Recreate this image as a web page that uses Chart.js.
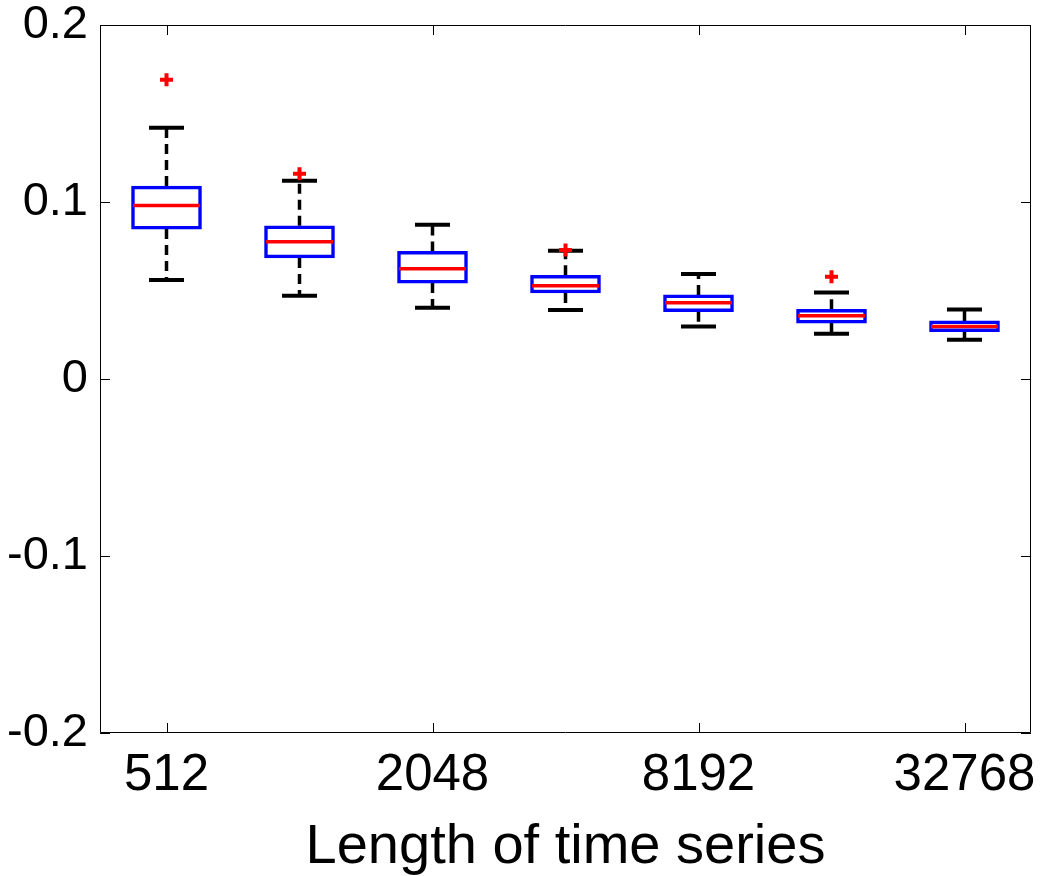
<!DOCTYPE html>
<html>
<head>
<meta charset="utf-8">
<script src="https://cdn.jsdelivr.net/npm/chart.js@4/dist/chart.umd.min.js"></script>
<style>
  html, body { margin: 0; padding: 0; background: #fff; }
  #wrap { width: 1044px; height: 876px; }
</style>
</head>
<body>
<div id="wrap"><canvas id="boxChart"></canvas></div>
<script>
// time series lengths (one box per length)
var lengths = [512, 1024, 2048, 4096, 8192, 16384, 32768];
var positions = [1, 2, 3, 4, 5, 6, 7];

// box statistics
var whiskerLow  = [0.056, 0.047, 0.0403, 0.039, 0.0296, 0.0256, 0.0222];
var quartile1   = [0.0847, 0.0684, 0.0542, 0.0486, 0.038, 0.0316, 0.0267];
var medians     = [0.098, 0.0776, 0.0623, 0.0527, 0.0431, 0.0358, 0.0296];
var quartile3   = [0.109, 0.0866, 0.0721, 0.0586, 0.0475, 0.0394, 0.0328];
var whiskerHigh = [0.142, 0.112, 0.0872, 0.0725, 0.0593, 0.0488, 0.0392];

// outliers: [position, value]
var outlierPos = [1, 2, 4, 6];
var outlierVal = [0.169, 0.116, 0.0729, 0.0578];

var xTickPositions = [1, 3, 5, 7];
var xTickLabels = ['512', '2048', '8192', '32768'];
var yTicks = [-0.2, -0.1, 0, 0.1, 0.2];
var yTickLabels = ['-0.2', '-0.1', '0', '0.1', '0.2'];

var boxData = [], medianData = [], capData = [], whiskerData = [], outlierData = [];
for (var i = 0; i < positions.length; i++) {
    boxData.push({ x: positions[i], y: [quartile1[i], quartile3[i]] });
    medianData.push({ x: positions[i], y: medians[i] });
    capData.push({ x: positions[i], y: whiskerLow[i] });
    capData.push({ x: positions[i], y: whiskerHigh[i] });
    // upper whisker, gap, lower whisker, gap
    whiskerData.push({ x: positions[i], y: quartile3[i] });
    whiskerData.push({ x: positions[i], y: whiskerHigh[i] });
    whiskerData.push({ x: positions[i], y: null });
    whiskerData.push({ x: positions[i], y: quartile1[i] });
    whiskerData.push({ x: positions[i], y: whiskerLow[i] });
    whiskerData.push({ x: positions[i], y: null });
}
for (var j = 0; j < outlierPos.length; j++) {
    outlierData.push({ x: outlierPos[j], y: outlierVal[j] });
}

// frame with inward ticks on all four sides, like a matlab axes box
var framePlugin = {
    id: 'frame',
    afterDraw: function(chart) {
        var ctx = chart.ctx;
        var a = chart.chartArea;
        var xs = chart.scales.x, ys = chart.scales.y;
        var tl = 10;
        ctx.save();
        ctx.strokeStyle = '#000';
        ctx.lineWidth = 1;
        ctx.beginPath();
        ctx.rect(a.left + 0.5, a.top + 0.5, a.right - a.left - 1, a.bottom - a.top - 1);
        for (var k = 0; k < yTicks.length; k++) {
            var py = Math.round(ys.getPixelForValue(yTicks[k])) + 0.5;
            ctx.moveTo(a.left, py); ctx.lineTo(a.left + tl, py);
            ctx.moveTo(a.right, py); ctx.lineTo(a.right - tl, py);
        }
        for (var m = 0; m < xTickPositions.length; m++) {
            var px = Math.round(xs.getPixelForValue(xTickPositions[m])) + 0.5;
            ctx.moveTo(px, a.bottom); ctx.lineTo(px, a.bottom - tl);
            ctx.moveTo(px, a.top); ctx.lineTo(px, a.top + tl);
        }
        ctx.stroke();
        ctx.restore();
    }
};

var fontFamily = '"Liberation Sans", Arial, sans-serif';

new Chart(document.getElementById('boxChart'), {
    type: 'scatter',
    data: {
        datasets: [{
            type: 'line',
            label: 'whiskers',
            data: whiskerData,
            borderColor: '#000',
            borderWidth: 3.5,
            borderDash: [10, 6],
            pointRadius: 0,
            spanGaps: false,
            fill: false,
            order: 4
        }, {
            label: 'caps',
            data: capData,
            pointStyle: 'line',
            pointRadius: 17.5,
            borderColor: '#000',
            borderWidth: 4,
            order: 3
        }, {
            type: 'bar',
            label: 'boxes',
            data: boxData,
            backgroundColor: 'rgba(255,255,255,1)',
            borderColor: '#0000ff',
            borderWidth: 3.5,
            borderSkipped: false,
            barThickness: 70,
            order: 2
        }, {
            label: 'medians',
            data: medianData,
            pointStyle: 'line',
            pointRadius: 33.5,
            borderColor: '#ff0000',
            borderWidth: 3.5,
            order: 1
        }, {
            label: 'outliers',
            data: outlierData,
            pointStyle: 'cross',
            pointRadius: 6.5,
            borderColor: '#ff0000',
            borderWidth: 4,
            order: 0
        }]
    },
    options: {
        responsive: true,
        maintainAspectRatio: false,
        animation: false,
        events: [],
        layout: { autoPadding: false, padding: { top: 25, right: 13, left: 0, bottom: 0 } },
        plugins: {
            legend: { display: false },
            tooltip: { enabled: false }
        },
        scales: {
            x: {
                type: 'linear',
                min: 0.5,
                max: 7.5,
                offset: false,
                grid: { display: false, offset: false },
                border: { display: false },
                afterBuildTicks: function(scale) {
                    scale.ticks = xTickPositions.map(function(v) { return { value: v }; });
                },
                afterFit: function(scale) {
                    scale.height = 143;
                    scale.paddingLeft = 0;
                    scale.paddingRight = 0;
                },
                ticks: {
                    autoSkip: false,
                    maxRotation: 0,
                    padding: 9,
                    color: '#000',
                    font: { family: fontFamily, size: 51, lineHeight: 1 },
                    callback: function(value) {
                        var idx = xTickPositions.indexOf(value);
                        return idx >= 0 ? xTickLabels[idx] : '';
                    }
                },
                title: {
                    display: true,
                    text: 'Length of time series',
                    color: '#000',
                    font: { family: fontFamily, size: 56, lineHeight: 1 },
                    padding: { top: 4, bottom: 0 }
                }
            },
            y: {
                min: -0.2,
                max: 0.2,
                grid: { display: false },
                border: { display: false },
                afterBuildTicks: function(scale) {
                    scale.ticks = yTicks.map(function(v) { return { value: v }; });
                },
                afterFit: function(scale) {
                    scale.width = 100;
                    scale.paddingTop = 0;
                    scale.paddingBottom = 0;
                },
                ticks: {
                    padding: 4,
                    color: '#000',
                    font: { family: fontFamily, size: 47, lineHeight: 1 },
                    callback: function(value) {
                        var idx = yTicks.indexOf(value);
                        return idx >= 0 ? yTickLabels[idx] : '';
                    }
                }
            }
        }
    },
    plugins: [framePlugin]
});
</script>
</body>
</html>
